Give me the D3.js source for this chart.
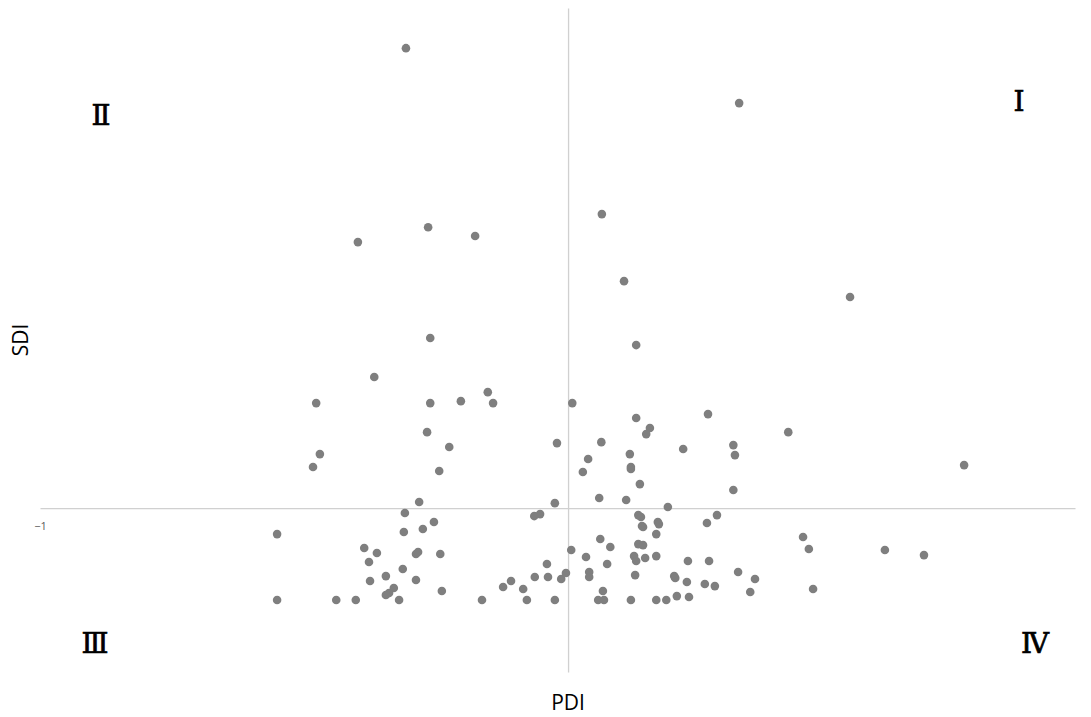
<!DOCTYPE html>
<html>
<head>
<meta charset="utf-8">
<script src="https://cdn.jsdelivr.net/npm/d3@7"></script>
<style>
  html, body { margin: 0; padding: 0; background: #ffffff; }
  text { font-family: "Open Sans", "Liberation Sans", sans-serif; }
</style>
</head>
<body>
<div class="container"></div>
<script>
const width = 1091;
const height = 717;

// PDI (x) and SDI (y) values
const pdi = [
  -0.307, 0.324, 0.064, -0.398, -0.265, -0.176, 0.106, 0.534, -0.261, 0.129,
  -0.367, -0.477, -0.261, -0.203, -0.152, -0.142, 0.008, 0.265, 0.129, 0.155,
  0.148, 0.417, -0.267, -0.225, -0.470, -0.483, -0.244, -0.021, 0.063, 0.218,
  0.313, 0.316, 0.117, 0.038, 0.119, 0.119, 0.028, 0.750, 0.136, 0.313,
  -0.282, -0.025, 0.059, 0.110, 0.189,
  -0.309, -0.064, -0.053, 0.133, 0.138, 0.140, 0.142, 0.170, 0.172, 0.167,
  0.263, 0.282, -0.551, -0.311, -0.275, -0.254, -0.386, -0.362, -0.377, -0.288,
  -0.284, -0.242, -0.345, -0.313, -0.375, -0.288, -0.330, -0.339, -0.345, -0.320,
  -0.551, -0.439, -0.402, -0.163, -0.239, 0.006, 0.034, -0.040, -0.063, -0.038,
  -0.013, -0.004, 0.040, 0.040, -0.108, -0.123, -0.085, -0.078, -0.025, 0.061,
  0.080, 0.133, 0.142, 0.074, 0.125, 0.129, 0.146, 0.167, 0.227, 0.267,
  0.445, 0.456, 0.600, 0.674, 0.127, 0.201, 0.203, 0.225, 0.259, 0.278,
  0.322, 0.354, 0.345, 0.464, 0.066, 0.057, 0.068, 0.119, 0.167, 0.186,
  0.206, 0.229
];
const sdi = [
  2.805, 2.470, 1.793, 1.622, 1.713, 1.659, 1.384, 1.287, 1.037, 0.994,
  0.799, 0.640, 0.640, 0.652, 0.707, 0.640, 0.640, 0.573, 0.549, 0.488,
  0.451, 0.463, 0.463, 0.372, 0.329, 0.250, 0.226, 0.396, 0.402, 0.360,
  0.384, 0.323, 0.329, 0.299, 0.250, 0.238, 0.220, 0.262, 0.146, 0.110,
  0.037, 0.030, 0.061, 0.049, 0.006,
  -0.030, -0.049, -0.037, -0.043, -0.055, -0.110, -0.116, -0.085, -0.098, -0.159,
  -0.091, -0.043, -0.159, -0.146, -0.128, -0.085, -0.244, -0.274, -0.329, -0.280,
  -0.268, -0.280, -0.415, -0.372, -0.445, -0.439, -0.488, -0.518, -0.530, -0.561,
  -0.561, -0.561, -0.561, -0.561, -0.506, -0.256, -0.299, -0.341, -0.421, -0.421,
  -0.433, -0.396, -0.390, -0.421, -0.445, -0.482, -0.494, -0.561, -0.561, -0.189,
  -0.238, -0.220, -0.226, -0.341, -0.293, -0.323, -0.305, -0.293, -0.323, -0.323,
  -0.177, -0.250, -0.256, -0.287, -0.409, -0.415, -0.427, -0.451, -0.463, -0.476,
  -0.390, -0.433, -0.512, -0.494, -0.506, -0.561, -0.561, -0.561, -0.561, -0.561,
  -0.537, -0.543
];
const xTickLabels = [-1];
const quadrants = ["Ⅰ", "Ⅱ", "Ⅲ", "Ⅳ"];

const points = pdi.map((d, i) => ({ x: d, y: sdi[i] }));

const svg = d3.select(".container")
  .append("svg")
  .attr("xmlns", "http://www.w3.org/2000/svg")
  .attr("width", width)
  .attr("height", height)
  .attr("viewBox", `0 0 ${width} ${height}`);

svg.append("rect")
  .attr("width", width)
  .attr("height", height)
  .attr("fill", "#ffffff");

const x = d3.scaleLinear().domain([-1, 0.96]).range([40, 1075]);
const y = d3.scaleLinear().domain([-1, 3.05]).range([672, 8]);

// horizontal axis through SDI = 0
const xAxis = svg.append("g")
  .attr("transform", `translate(0,${y(0)})`)
  .call(d3.axisBottom(x).tickValues(xTickLabels).tickSize(0).tickPadding(12)
    .tickFormat(d3.format("d")));
xAxis.select(".domain").attr("stroke", "#d0d0d0").attr("stroke-width", 1.3);
xAxis.selectAll("text")
  .attr("fill", "#595959")
  .attr("dy", "0.95em")
  .style("font-size", "11px")
  .style("font-family", '"Open Sans", sans-serif');

// vertical axis through PDI = 0
const yAxis = svg.append("g")
  .attr("transform", `translate(${x(0)},0)`)
  .call(d3.axisLeft(y).tickValues([]).tickSize(0));
yAxis.select(".domain").attr("stroke", "#d0d0d0").attr("stroke-width", 1.3);

// points
svg.append("g")
  .selectAll("circle")
  .data(points)
  .join("circle")
  .attr("cx", d => x(d.x))
  .attr("cy", d => y(d.y))
  .attr("r", 4.3)
  .attr("fill", "#7f7f7f");

// quadrant labels
const quadPos = [
  { px: 1019, py: 111 },
  { px: 101, py: 125 },
  { px: 95, py: 653 },
  { px: 1035, py: 653 }
];
svg.append("g")
  .selectAll("text")
  .data(quadrants)
  .join("text")
  .attr("x", (d, i) => quadPos[i].px)
  .attr("y", (d, i) => quadPos[i].py)
  .attr("text-anchor", "middle")
  .attr("fill", "#000000")
  .attr("stroke", "#000000")
  .attr("stroke-width", 0.7)
  .style("font-family", '"DejaVu Serif", "Liberation Serif", serif')
  .style("font-size", "28px")
  .text(d => d);

// axis titles
svg.append("text")
  .attr("x", x(0))
  .attr("y", 710)
  .attr("text-anchor", "middle")
  .attr("fill", "#000000")
  .style("font-size", "21px")
  .text("PDI");

svg.append("text")
  .attr("transform", "translate(28,340) rotate(-90)")
  .attr("text-anchor", "middle")
  .attr("fill", "#000000")
  .style("font-size", "21px")
  .text("SDI");
</script>
</body>
</html>
